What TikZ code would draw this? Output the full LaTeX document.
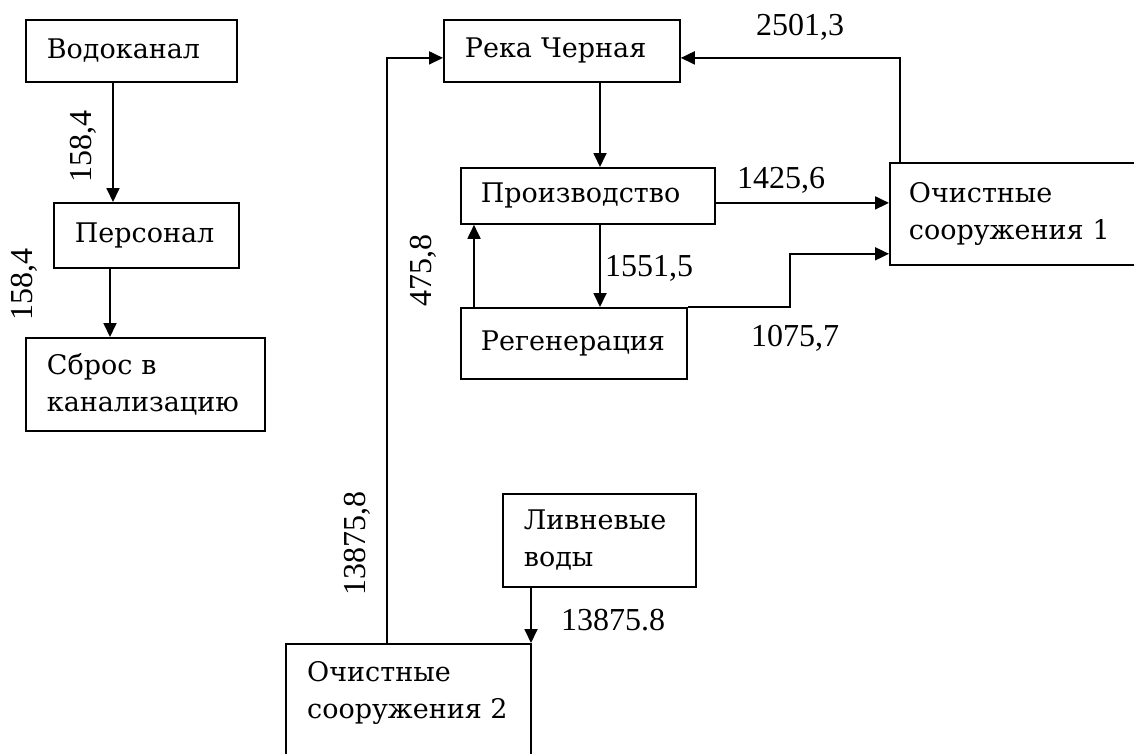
\documentclass[tikz,border=0pt]{standalone}
\usepackage{fontspec}
\setmainfont{Liberation Serif}
\newfontfamily\boxfont{DejaVu Serif}
\usetikzlibrary{arrows.meta}
\begin{document}
\begin{tikzpicture}[x=1pt,y=-1pt,
  font=\boxfont\fontsize{27}{37}\selectfont,
  box/.style={draw,line width=1.8pt,anchor=north west,align=left,inner xsep=21pt,inner ysep=0pt},
  arr/.style={line width=1.8pt,-{Triangle[length=14pt,width=13pt]}},
  lab/.style={inner sep=0pt,font=\rmfamily\fontsize{32}{37}\selectfont}]
\useasboundingbox (0,0) rectangle (1134,753);
\clip (0,0) rectangle (1134,753);
% boxes
\node[box,text width=169pt,minimum height=62pt] (vod) at (25,19) {Водоканал};
\node[box,text width=143pt,minimum height=65pt] (pers) at (53,202) {Персонал};
\node[box,text width=197pt,minimum height=93pt] (sbros) at (25,337) {Сброс~в\\канализацию};
\node[box,text width=194pt,minimum height=62pt] (reka) at (443,19) {Река~Черная};
\node[box,text width=214pt,minimum height=56pt,inner xsep=20pt] (proizv) at (460,167) {Производство};
\node[box,text width=186pt,minimum height=71pt,inner xsep=20pt] (regen) at (460,307) {Регенерация};
\node[box,text width=242pt,minimum height=102pt,inner xsep=19pt] (och1) at (889,162) {Очистные\\сооружения~1};
\node[box,text width=151pt,minimum height=93pt] (livn) at (502,493) {Ливневые\\воды};
\node[draw,line width=1.8pt,anchor=north west,minimum width=245pt,minimum height=150pt,inner sep=0pt] (och2) at (285,643) {};
\node[anchor=west,align=left,inner sep=0pt] (och2t) at (307,693) {Очистные\\сооружения~2};
% connectors
\draw[arr] ([xshift=88pt]vod.south west) -- ([xshift=88pt]vod.south west |- pers.north);
\draw[arr] ([xshift=57pt]pers.south west) -- ([xshift=57pt]pers.south west |- sbros.north);
\draw[arr] ([xshift=140pt]proizv.north west |- reka.south) -- ([xshift=140pt]proizv.north west);
\draw[arr] ([xshift=140pt]proizv.south west) -- ([xshift=140pt]proizv.south west |- regen.north);
\draw[arr] ([xshift=14pt]regen.north west) -- ([xshift=14pt]regen.north west |- proizv.south);
\draw[arr] ([yshift=-7pt]proizv.east) -- ([yshift=-7pt]proizv.east -| och1.west);
\draw[arr] (regen.north east) -- ++(102pt,0) |- ([yshift=12pt]och1.south west);
\draw[arr] ([xshift=11pt]och1.north west) |- ([yshift=-7pt]reka.east);
\draw[arr] ([xshift=102pt]och2.north west) |- ([yshift=-7pt]reka.west);
\draw[arr] ([xshift=29pt]livn.south west) -- ([xshift=29pt]livn.south west |- och2.north);
% labels
\node[lab,rotate=90] (l1) at (83,146) {158,4};
\node[lab,rotate=90] (l2) at (24,284) {158,4};
\node[lab,anchor=west] (l3) at (605,268) {1551,5};
\node[lab,rotate=90] (l4) at (423,270) {475,8};
\node[lab] (l5) at (781,180) {1425,6};
\node[lab] (l6) at (795,338) {1075,7};
\node[lab] (l7) at (800,27) {2501,3};
\node[lab,rotate=90] (l8) at (357,543) {13875,8};
\node[lab] (l9) at (613,620) {13875.8};
\end{tikzpicture}
\end{document}
